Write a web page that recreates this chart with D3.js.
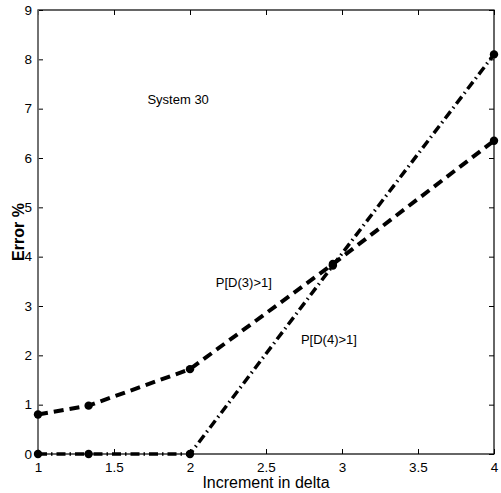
<!DOCTYPE html>
<html><head><meta charset="utf-8">
<script src="https://cdn.jsdelivr.net/npm/d3@7"></script>
<style>body{margin:0;background:#fff}text{font-family:"Liberation Sans Narrow","Liberation Sans",Arial,sans-serif}</style>
</head><body>
<script>
const xValues = [1, 1.333, 2, 2.94, 4];
const seriesD3 = [0.8, 0.98, 1.72, 3.85, 6.35];
const seriesD4 = [0, 0, 0, 3.82, 8.1];
const xTicks = [1, 1.5, 2, 2.5, 3, 3.5, 4];
const yTicks = [0,1,2,3,4,5,6,7,8,9];
const annotations = [{text:"System 30", x:1.72, y:7.1},{text:"P[D(3)>1]", x:2.17, y:3.38},{text:"P[D(4)>1]", x:2.73, y:2.22}];

const W=501,H=493, L=38, R=494, T=10, B=454;
const svg=d3.select("body").append("svg").attr("width",W).attr("height",H);
const x=d3.scaleLinear().domain([1,4]).range([L,R]);
const y=d3.scaleLinear().domain([0,9]).range([B,T]);

const fmt=d=>String(d);
svg.append("g").attr("transform",`translate(0,${B})`).call(d3.axisBottom(x).tickValues(xTicks).tickFormat(fmt).tickSizeInner(-5).tickSizeOuter(0).tickPadding(8))
 .call(g=>{g.select(".domain").remove();g.selectAll("text").attr("font-size",13.5).attr("fill","#000");});
svg.append("g").attr("transform",`translate(0,${T})`).call(d3.axisTop(x).tickValues(xTicks).tickFormat("").tickSizeInner(-5).tickSizeOuter(0))
 .call(g=>g.select(".domain").remove());
svg.append("g").attr("transform",`translate(${L},0)`).call(d3.axisLeft(y).tickValues(yTicks).tickFormat(fmt).tickSizeInner(-5).tickSizeOuter(0).tickPadding(3))
 .call(g=>{g.select(".domain").remove();g.selectAll("text").attr("font-size",13.5).attr("fill","#000").attr("dx",-3);});
svg.append("g").attr("transform",`translate(${R},0)`).call(d3.axisRight(y).tickValues(yTicks).tickFormat("").tickSizeInner(-5).tickSizeOuter(0))
 .call(g=>g.select(".domain").remove());
svg.append("rect").attr("x",L).attr("y",T).attr("width",R-L).attr("height",B-T).attr("fill","none").attr("stroke","#000").attr("stroke-width",1.2);
svg.append("line").attr("x1",L).attr("x2",L).attr("y1",T).attr("y2",B).attr("stroke","#777").attr("stroke-width",1.5);

const line=d3.line().x((d,i)=>x(xValues[i])).y(d=>y(d));
svg.append("path").datum(seriesD4).attr("d",line).attr("fill","none").attr("stroke","#000").attr("stroke-width",3.5).attr("stroke-dasharray","9,4,1.5,4");
svg.append("path").datum(seriesD3).attr("d",line).attr("fill","none").attr("stroke","#000").attr("stroke-width",4).attr("stroke-dasharray","10,6");
[seriesD3,seriesD4].forEach(s=>{
 svg.append("g").selectAll("circle").data(s).join("circle").attr("cx",(d,i)=>x(xValues[i])).attr("cy",d=>y(d)).attr("r",4.2).attr("fill","#000");
});
svg.append("g").selectAll("text").data(annotations).join("text").attr("x",d=>x(d.x)).attr("y",d=>y(d.y)).attr("font-size",13).text(d=>d.text);

svg.append("text").attr("x",(L+R)/2).attr("y",488).attr("text-anchor","middle").attr("font-size",16).text("Increment in delta");
svg.append("text").attr("transform",`translate(24,${(T+B)/2}) rotate(-90)`).attr("text-anchor","middle").attr("font-size",16).attr("font-weight","bold").text("Error %");
</script>
</body></html>
